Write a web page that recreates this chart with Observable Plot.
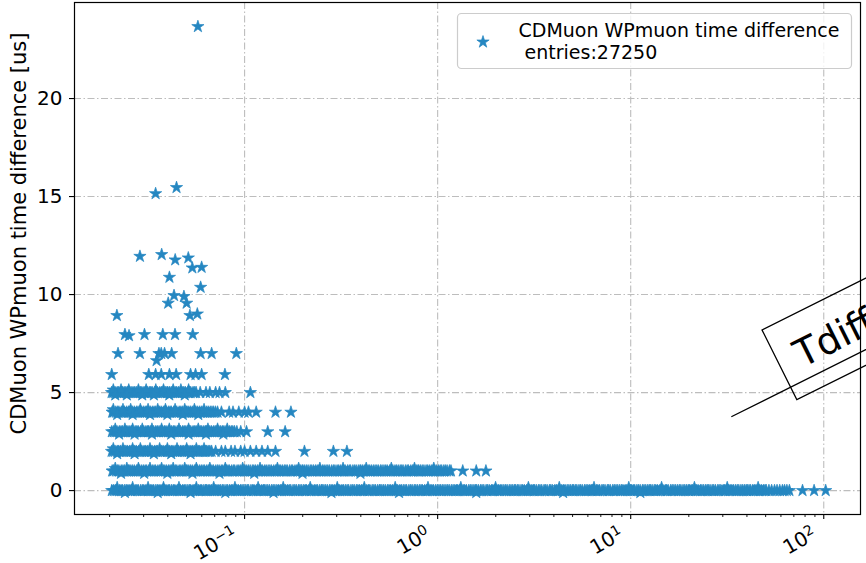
<!DOCTYPE html>
<html>
<head>
<meta charset="utf-8">
<script src="https://cdn.jsdelivr.net/npm/d3@7"></script>
<script src="https://cdn.jsdelivr.net/npm/@observablehq/plot@0.6"></script>
<style>
  html, body { margin: 0; padding: 0; background: #fff; overflow: hidden; }
  #chart { position: relative; width: 866px; height: 563px; }
</style>
</head>
<body>
<div id="chart"></div>
<script>
// Integer levels of the time difference [us] on which the dense rows lie
const bandLevels = [0, 1, 2, 3, 4, 5];

// log10 of x for the entries lying on each level
const band0LogX = [
  -1.604,-1.613,-1.621,-1.632,-1.640,-1.649,-1.661,-1.669,-1.678,-1.688,
  -1.502,-1.511,-1.522,-1.530,-1.539,-1.551,-1.558,-1.567,-1.579,-1.586,-1.594,
  -1.407,-1.415,-1.424,-1.433,-1.443,-1.452,-1.460,-1.471,-1.480,-1.489,-1.498,
  -1.304,-1.313,-1.321,-1.332,-1.340,-1.349,-1.361,-1.369,-1.378,-1.388,-1.396,
  -1.202,-1.211,-1.222,-1.230,-1.239,-1.251,-1.258,-1.267,-1.279,-1.286,-1.294,
  -1.107,-1.115,-1.124,-1.133,-1.143,-1.152,-1.160,-1.171,-1.180,-1.189,-1.198,
  -1.004,-1.013,-1.021,-1.032,-1.040,-1.049,-1.061,-1.069,-1.078,-1.088,-1.096,
  -0.902,-0.911,-0.922,-0.930,-0.939,-0.951,-0.958,-0.967,-0.979,-0.986,-0.994,
  -0.807,-0.815,-0.824,-0.833,-0.843,-0.852,-0.860,-0.871,-0.880,-0.889,-0.898,
  -0.704,-0.713,-0.721,-0.732,-0.740,-0.749,-0.761,-0.769,-0.778,-0.788,-0.796,
  -0.602,-0.611,-0.622,-0.630,-0.639,-0.651,-0.658,-0.667,-0.679,-0.686,-0.694,
  -0.507,-0.515,-0.524,-0.533,-0.543,-0.552,-0.560,-0.571,-0.580,-0.589,-0.598,
  -0.404,-0.413,-0.421,-0.432,-0.440,-0.449,-0.461,-0.469,-0.478,-0.488,-0.496,
  -0.302,-0.311,-0.322,-0.330,-0.339,-0.351,-0.358,-0.367,-0.379,-0.386,-0.394,
  -0.207,-0.215,-0.224,-0.233,-0.243,-0.252,-0.260,-0.271,-0.280,-0.289,-0.298,
  -0.104,-0.113,-0.121,-0.132,-0.140,-0.149,-0.161,-0.169,-0.178,-0.188,-0.196,
  -0.002,-0.011,-0.022,-0.030,-0.039,-0.051,-0.058,-0.067,-0.079,-0.086,-0.094,
  0.007,0.015,0.024,0.033,0.043,0.052,0.060,0.071,0.080,0.089,0.098,
  0.104,0.113,0.121,0.132,0.140,0.149,0.161,0.169,0.178,0.188,0.196,
  0.202,0.211,0.222,0.230,0.239,0.251,0.258,0.267,0.279,0.286,0.294,
  0.307,0.315,0.324,0.333,0.343,0.352,0.360,0.371,0.380,0.389,0.398,
  0.404,0.413,0.421,0.432,0.440,0.449,0.461,0.469,0.478,0.488,0.496,
  0.502,0.511,0.522,0.530,0.539,0.551,0.558,0.567,0.579,0.586,0.594,
  0.607,0.615,0.624,0.633,0.643,0.652,0.660,0.671,0.680,0.689,0.698,
  0.704,0.713,0.721,0.732,0.740,0.749,0.761,0.769,0.778,0.788,0.796,
  0.802,0.811,0.822,0.830,0.839,0.851,0.858,0.867,0.879,0.886,0.894,
  0.907,0.915,0.924,0.933,0.943,0.952,0.960,0.971,0.980,0.989,0.998,
  1.004,1.013,1.021,1.032,1.040,1.049,1.061,1.069,1.078,1.088,1.096,
  1.102,1.111,1.122,1.130,1.139,1.151,1.158,1.167,1.179,1.186,1.194,
  1.207,1.215,1.224,1.233,1.243,1.252,1.260,1.271,1.280,1.289,1.298,
  1.304,1.313,1.321,1.332,1.340,1.349,1.361,1.369,1.378,1.388,1.396,
  1.402,1.411,1.422,1.430,1.439,1.451,1.458,1.467,1.479,1.486,1.494,
  1.507,1.515,1.524,1.533,1.543,1.552,1.560,1.571,1.580,1.589,1.598,
  1.604,1.613,1.621,1.632,1.640,1.649,1.661,1.669,1.678,1.688,1.696,
  1.702,1.716,1.730,1.745,1.758,1.772,1.786,1.797,1.809,1.822,
  1.89,1.95,2.01];
const band1LogX = [
  -1.602,-1.611,-1.622,-1.630,-1.639,-1.651,-1.658,-1.667,-1.679,-1.686,
  -1.507,-1.515,-1.524,-1.533,-1.543,-1.552,-1.560,-1.571,-1.580,-1.589,-1.598,
  -1.404,-1.413,-1.421,-1.432,-1.440,-1.449,-1.461,-1.469,-1.478,-1.488,-1.496,
  -1.302,-1.311,-1.322,-1.330,-1.339,-1.351,-1.358,-1.367,-1.379,-1.386,-1.394,
  -1.207,-1.215,-1.224,-1.233,-1.243,-1.252,-1.260,-1.271,-1.280,-1.289,-1.298,
  -1.104,-1.113,-1.121,-1.132,-1.140,-1.149,-1.161,-1.169,-1.178,-1.188,-1.196,
  -1.002,-1.011,-1.022,-1.030,-1.039,-1.051,-1.058,-1.067,-1.079,-1.086,-1.094,
  -0.907,-0.915,-0.924,-0.933,-0.943,-0.952,-0.960,-0.971,-0.980,-0.989,-0.998,
  -0.804,-0.813,-0.821,-0.832,-0.840,-0.849,-0.861,-0.869,-0.878,-0.888,-0.896,
  -0.702,-0.711,-0.722,-0.730,-0.739,-0.751,-0.758,-0.767,-0.779,-0.786,-0.794,
  -0.607,-0.615,-0.624,-0.633,-0.643,-0.652,-0.660,-0.671,-0.680,-0.689,-0.698,
  -0.504,-0.513,-0.521,-0.532,-0.540,-0.549,-0.561,-0.569,-0.578,-0.588,-0.596,
  -0.402,-0.411,-0.422,-0.430,-0.439,-0.451,-0.458,-0.467,-0.479,-0.486,-0.494,
  -0.307,-0.315,-0.324,-0.333,-0.343,-0.352,-0.360,-0.371,-0.380,-0.389,-0.398,
  -0.204,-0.213,-0.221,-0.232,-0.240,-0.249,-0.261,-0.269,-0.278,-0.288,-0.296,
  -0.102,-0.111,-0.122,-0.130,-0.139,-0.151,-0.158,-0.167,-0.179,-0.186,-0.194,
  -0.007,-0.015,-0.024,-0.033,-0.043,-0.052,-0.060,-0.071,-0.080,-0.089,-0.098,
  0.004,0.013,0.021,0.032,0.040,0.049,0.061,0.069,
  0.13,0.20,0.25];
const band2LogX = [
  -1.607,-1.615,-1.624,-1.633,-1.643,-1.652,-1.660,-1.671,-1.680,-1.689,
  -1.504,-1.513,-1.521,-1.532,-1.540,-1.549,-1.561,-1.569,-1.578,-1.588,-1.596,
  -1.402,-1.411,-1.422,-1.430,-1.439,-1.451,-1.458,-1.467,-1.479,-1.486,-1.494,
  -1.307,-1.315,-1.324,-1.333,-1.343,-1.352,-1.360,-1.371,-1.380,-1.389,-1.398,
  -1.204,-1.213,-1.221,-1.232,-1.240,-1.249,-1.261,-1.269,-1.278,-1.288,-1.296,
  -1.171,-1.180,-1.189,-1.198,
  -1.15,-1.12,-1.10,-1.07,-1.05,-1.02,-1.00,-0.97,-0.94,-0.91,-0.88,-0.84,
  -0.69,-0.54,-0.47];
const band3LogX = [
  -1.604,-1.613,-1.621,-1.632,-1.640,-1.649,-1.661,-1.669,-1.678,-1.688,
  -1.502,-1.511,-1.522,-1.530,-1.539,-1.551,-1.558,-1.567,-1.579,-1.586,-1.594,
  -1.407,-1.415,-1.424,-1.433,-1.443,-1.452,-1.460,-1.471,-1.480,-1.489,-1.498,
  -1.304,-1.313,-1.321,-1.332,-1.340,-1.349,-1.361,-1.369,-1.378,-1.388,-1.396,
  -1.202,-1.211,-1.222,-1.230,-1.239,-1.251,-1.258,-1.267,-1.279,-1.286,-1.294,
  -1.107,-1.115,-1.124,-1.133,-1.143,-1.152,-1.160,-1.171,-1.180,-1.189,-1.198,
  -1.052,-1.061,-1.069,-1.078,-1.088,-1.096,
  -1.04,-1.02,-0.99,
  -0.88,-0.79];
const band4LogX = [
  -1.602,-1.611,-1.622,-1.630,-1.639,-1.651,-1.658,-1.667,-1.679,-1.686,
  -1.507,-1.515,-1.524,-1.533,-1.543,-1.552,-1.560,-1.571,-1.580,-1.589,-1.598,
  -1.404,-1.413,-1.421,-1.432,-1.440,-1.449,-1.461,-1.469,-1.478,-1.488,-1.496,
  -1.302,-1.311,-1.322,-1.330,-1.339,-1.351,-1.358,-1.367,-1.379,-1.386,-1.394,
  -1.207,-1.215,-1.224,-1.233,-1.243,-1.252,-1.260,-1.271,-1.280,-1.289,-1.298,
  -1.151,-1.161,-1.169,-1.178,-1.188,-1.196,
  -1.14,-1.12,
  -1.08,-1.06,-1.03,-1.00,-0.98,-0.94,
  -0.84,-0.76];
const band5LogX = [
  -1.607,-1.615,-1.624,-1.633,-1.643,-1.652,-1.660,-1.671,-1.680,-1.689,
  -1.504,-1.513,-1.521,-1.532,-1.540,-1.549,-1.561,-1.569,-1.578,-1.588,-1.596,
  -1.402,-1.411,-1.422,-1.430,-1.439,-1.451,-1.458,-1.467,-1.479,-1.486,-1.494,
  -1.307,-1.315,-1.324,-1.333,-1.343,-1.352,-1.360,-1.371,-1.380,-1.389,-1.398,
  -1.251,-1.258,-1.267,-1.279,-1.286,-1.294,
  -1.23,-1.20,-1.18,-1.15,-1.13,-1.10,
  -0.97];

// Entries a little above / below each level (log10 of x), one list per level
const aboveOffsets = [0.15, 0.13, 0.13, 0.13, 0.13, 0.13];
const belowOffsets = [-0.1, -0.12, -0.12, -0.12, -0.12, -0.12];
const aboveLogX = [
  [-1.66,-1.58,-1.50,-1.42,-1.34,-1.25,-1.16,-1.05,-0.93,-0.80,-0.66,-0.52,-0.38,-0.22,-0.05,0.12,0.30,0.47,0.63,0.81,0.99,1.16,1.33,1.50,1.66],
  [-1.67,-1.61,-1.55,-1.49,-1.43,-1.37,-1.31,-1.25,-1.18,-1.10,-1.01,-0.92,-0.83,-0.72,-0.61,-0.49,-0.37,-0.24,-0.12,-0.02],
  [-1.68,-1.63,-1.58,-1.54,-1.49,-1.44,-1.40,-1.35,-1.30,-1.25,-1.21],
  [-1.67,-1.62,-1.58,-1.53,-1.48,-1.43,-1.39,-1.34,-1.29,-1.24,-1.19,-1.14,-1.09],
  [-1.68,-1.63,-1.59,-1.54,-1.50,-1.45,-1.41,-1.36,-1.31,-1.26,-1.21],
  [-1.68,-1.64,-1.60,-1.55,-1.51,-1.46,-1.42,-1.37,-1.33,-1.29]
];
const belowLogX = [
  [-1.62,-1.45,-1.28,-1.10,-0.85,-0.55,-0.20,0.20,0.65,1.05],
  [-1.64,-1.52,-1.40,-1.27,-1.13,-0.95,-0.70,-0.40],
  [-1.66,-1.57,-1.47,-1.38,-1.28],
  [-1.65,-1.57,-1.48,-1.38,-1.29,-1.20,-1.11],
  [-1.66,-1.58,-1.49,-1.40,-1.32,-1.24],
  [-1.67,-1.61,-1.53,-1.47,-1.39,-1.31]
];

// Isolated entries above the rows
const outlierX = [0.0573,0.0346,0.0444,0.0287,0.0372,0.0437,0.0511,0.0536,0.0599,0.0408,0.0592,0.0431,0.0485,0.0402,0.0501,0.0218,0.0521,0.0569,
  0.0240,0.0252,0.0303,0.0377,0.0436,0.0539,
  0.0221,0.0287,0.0360,0.0370,0.0385,0.0419,0.0592,0.0675,0.0906,0.0350,
  0.0205,0.0319,0.0346,0.0370,0.0408,0.0442,0.0525,0.0557,0.0599,0.0791];
const outlierY = [23.67,15.15,15.46,11.95,12.04,11.77,11.87,11.36,11.39,10.88,10.37,9.95,9.90,9.56,9.56,8.93,8.93,9.01,
  7.96,7.90,7.96,7.96,7.96,7.96,
  6.99,6.99,6.99,6.99,6.99,6.99,6.99,6.99,6.99,6.63,
  5.92,5.92,5.92,5.92,5.92,5.92,5.92,5.92,5.92,5.92];

// Axis ticks
const xMajorTicks = [0.1, 1, 10, 100];
const xTickBase = "10";
const xTickExponents = ["\u22121", "0", "1", "2"];
const xMinorTicks = [0.02,0.03,0.04,0.05,0.06,0.07,0.08,0.09,
  0.2,0.3,0.4,0.5,0.6,0.7,0.8,0.9,
  2,3,4,5,6,7,8,9,
  20,30,40,50,60,70,80,90];
const yTicks = [0, 5, 10, 15, 20];

// Annotation: "Tdiff" box and its guide line (data coordinates)
const tdiffText = "Tdiff";
const tdiffAt = {x: 72.5, y: 6.81};
const tdiffAngle = -26.5;
const tdiffLineX = [33.4, 250.6];
const tdiffLineY = [3.78, 8.08];

const legendTitle = "CDMuon WPmuon time difference";
const legendEntries = " entries:27250";
const yLabel = "CDMuon WPmuon time difference [us]";

const blue = "#2587c1";
const font = "DejaVu Sans";

// Assemble the scatter table
const points = [];
[band0LogX, band1LogX, band2LogX, band3LogX, band4LogX, band5LogX].forEach((row, i) =>
  row.forEach(v => points.push({x: 10 ** v, y: bandLevels[i]})));
aboveLogX.forEach((row, i) => row.forEach(v => points.push({x: 10 ** v, y: bandLevels[i] + aboveOffsets[i]})));
belowLogX.forEach((row, i) => row.forEach(v => points.push({x: 10 ** v, y: bandLevels[i] + belowOffsets[i]})));
outlierX.forEach((v, i) => points.push({x: v, y: outlierY[i]}));

const gridStyle = {stroke: "#bdbdbd", strokeOpacity: 1, strokeWidth: 1.1, strokeDasharray: "7,2.5,1.5,2.5"};
const starR = 3.85;

const plot = Plot.plot({
  width: 866,
  height: 563,
  marginLeft: 74,
  marginRight: 6,
  marginTop: 2,
  marginBottom: 49,
  style: {fontFamily: font, background: "white", color: "black"},
  x: {type: "log", domain: [0.01315, 155], label: null},
  y: {domain: [-1.22, 24.9], label: null},
  marks: [
    Plot.gridX(xMajorTicks, gridStyle),
    Plot.gridY(yTicks, gridStyle),
    Plot.dot(points, {x: "x", y: "y", symbol: "star", r: starR, fill: blue, stroke: blue, strokeWidth: 0.7}),
    Plot.line(tdiffLineX.map((x, i) => ({x, y: tdiffLineY[i]})), {x: "x", y: "y", stroke: "black", strokeWidth: 1.3}),
    Plot.text([tdiffAt], {x: "x", y: "y", text: () => tdiffText, rotate: tdiffAngle, textAnchor: "start", lineAnchor: "middle", fontSize: 38, fontFamily: font, fill: "black"}),
    Plot.frame({stroke: "black", strokeWidth: 1.2}),
    Plot.axisX({ticks: xMinorTicks, tickSize: 3, tickFormat: () => "", label: null, strokeWidth: 0.9}),
    Plot.axisX({ticks: xMajorTicks, tickSize: 5, tickFormat: () => "", label: null, strokeWidth: 1.1}),
    Plot.text(xMajorTicks, {x: d => d, text: (d, i) => xTickBase + xTickExponents[i], frameAnchor: "bottom", rotate: -30, textAnchor: "end", lineAnchor: "top", dx: -13, dy: 11, fontSize: 20, fontFamily: font, fill: "black"}),
    Plot.axisY({ticks: yTicks, tickSize: 5, tickPadding: 7, fontSize: 20, label: null, strokeWidth: 1.1})
  ]
});

document.getElementById("chart").appendChild(plot);

const svg = d3.select(plot);

// Raise the exponent of each x tick label
const tickTexts = new Set(xTickExponents.map(e => xTickBase + e));
svg.selectAll("text").filter(function () { return tickTexts.has(this.textContent); }).each(function () {
  const exponent = this.textContent.slice(xTickBase.length);
  const t = d3.select(this);
  t.text(null);
  t.append("tspan").text(xTickBase);
  t.append("tspan").attr("dy", "-0.45em").attr("font-size", "70%").text(exponent);
});

// Box around the rotated "Tdiff" annotation
svg.selectAll("text").filter(function () { return this.textContent === tdiffText; }).each(function () {
  const bb = this.getBBox();
  const padL = 18, padT = 17, padB = 17, padR = 60;
  const rect = document.createElementNS("http://www.w3.org/2000/svg", "rect");
  rect.setAttribute("x", bb.x - padL);
  rect.setAttribute("y", bb.y - padT);
  rect.setAttribute("width", bb.width + padL + padR);
  rect.setAttribute("height", bb.height + padT + padB);
  rect.setAttribute("transform", this.getAttribute("transform"));
  rect.setAttribute("fill", "none");
  rect.setAttribute("stroke", "black");
  rect.setAttribute("stroke-width", 1.3);
  this.parentNode.insertBefore(rect, this);
});

// Y axis title
svg.append("text")
  .attr("transform", "translate(19,233.5) rotate(-90)")
  .attr("text-anchor", "middle")
  .attr("dy", "0.35em")
  .attr("font-family", font)
  .attr("font-size", 21)
  .attr("fill", "black")
  .text(yLabel);

// Legend
const lg = svg.append("g").attr("text-anchor", "start");
lg.append("rect")
  .attr("x", 457.5).attr("y", 13.5).attr("width", 394).attr("height", 55).attr("rx", 4)
  .attr("fill", "white").attr("fill-opacity", 0.8).attr("stroke", "#cccccc").attr("stroke-width", 1.2);
lg.append("path")
  .attr("d", d3.symbol(d3.symbolStar, Math.PI * starR * starR)())
  .attr("transform", "translate(483,42)")
  .attr("fill", blue).attr("stroke", blue).attr("stroke-width", 0.7);
lg.append("text")
  .attr("x", 518.5).attr("y", 36.5)
  .attr("font-family", font).attr("font-size", 19).attr("fill", "black")
  .style("white-space", "pre")
  .text(legendTitle);
lg.append("text")
  .attr("x", 518.5).attr("y", 59)
  .attr("font-family", font).attr("font-size", 19).attr("fill", "black")
  .style("white-space", "pre")
  .text(legendEntries);
</script>
</body>
</html>
